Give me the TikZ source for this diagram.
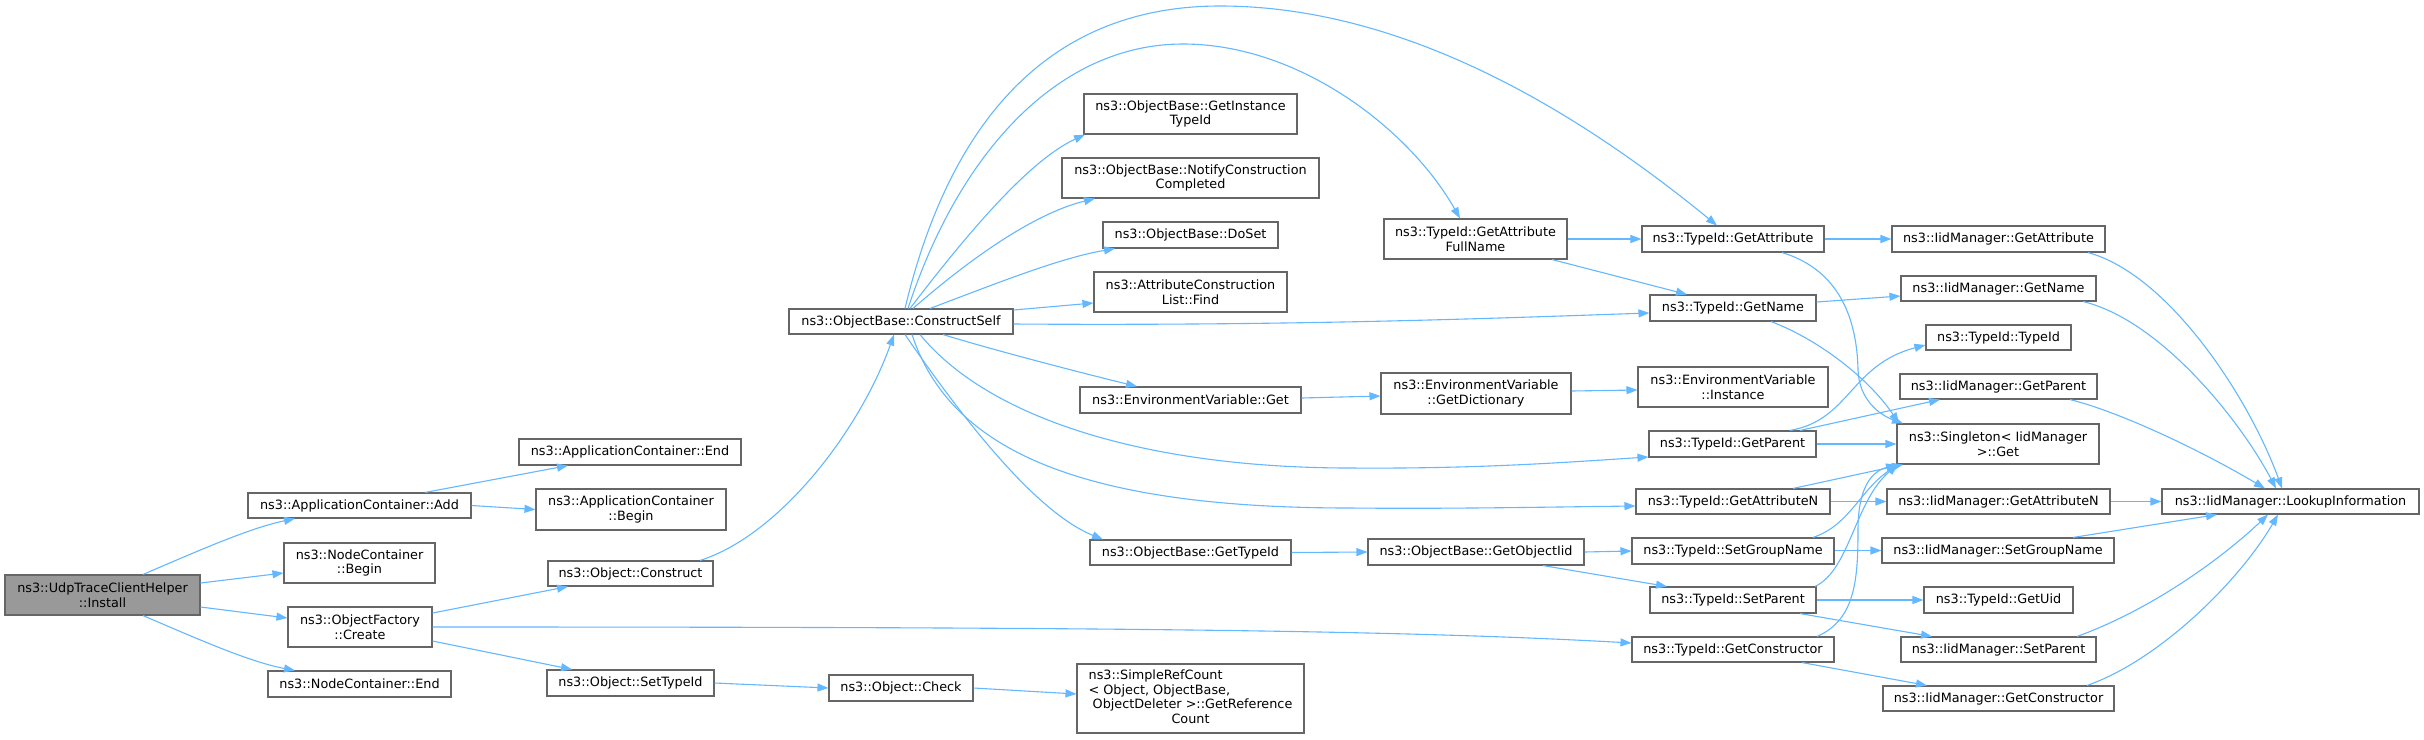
\documentclass[tikz,border=0pt]{standalone}
\usepackage{fontspec}
\setmainfont{DejaVu Sans}
\usetikzlibrary{arrows.meta}
\definecolor{edgeblue}{HTML}{63B8FF}
\definecolor{boxgray}{HTML}{666666}
\definecolor{fillgray}{HTML}{999999}
\begin{document}
\begin{tikzpicture}[x=1pt,y=-1pt,
  box/.style={draw=boxgray, line width=1.1pt, inner sep=0pt, align=center,
    font=\fontsize{12.8}{14.8}\selectfont, fill=white},
  root/.style={box, fill=fillgray},
  call/.style={draw=edgeblue, line width=1.1pt, -{Triangle[length=11pt,width=8pt]}}]
\useasboundingbox (0,0) rectangle (2424,739);
\fill[white] (0,0) rectangle (2424,739);
% nodes
\node[root, minimum width=195pt, minimum height=40pt] (install) at (102.5,595) {ns3::UdpTraceClientHelper\\::Install};
\node[box, minimum width=223pt, minimum height=25pt] (appadd) at (359.5,505.5) {ns3::ApplicationContainer::Add};
\node[box, minimum width=151pt, minimum height=40pt] (ncbegin) at (359.5,563) {ns3::NodeContainer\\::Begin};
\node[box, minimum width=144pt, minimum height=40pt] (ofcreate) at (360,627) {ns3::ObjectFactory\\::Create};
\node[box, minimum width=183pt, minimum height=26pt] (ncend) at (359.5,684) {ns3::NodeContainer::End};
\node[box, minimum width=222pt, minimum height=26pt] (append) at (630,452) {ns3::ApplicationContainer::End};
\node[box, minimum width=190pt, minimum height=41pt] (appbegin) at (631,509.5) {ns3::ApplicationContainer\\::Begin};
\node[box, minimum width=165pt, minimum height=25pt] (construct) at (630.5,573.5) {ns3::Object::Construct};
\node[box, minimum width=167pt, minimum height=26pt] (settypeid) at (630.5,683) {ns3::Object::SetTypeId};
\node[box, minimum width=144pt, minimum height=26pt] (check) at (901,688) {ns3::Object::Check};
\node[box, minimum width=224pt, minimum height=25pt] (constructself) at (901,321.5) {ns3::ObjectBase::ConstructSelf};
\node[box, minimum width=213pt, minimum height=40pt] (getinst) at (1190.5,114) {ns3::ObjectBase::GetInstance\\TypeId};
\node[box, minimum width=257pt, minimum height=40pt] (notify) at (1190.5,178) {ns3::ObjectBase::NotifyConstruction\\Completed};
\node[box, minimum width=175pt, minimum height=26pt] (doset) at (1190.5,235) {ns3::ObjectBase::DoSet};
\node[box, minimum width=193pt, minimum height=40pt] (find) at (1190.5,292) {ns3::AttributeConstruction\\List::Find};
\node[box, minimum width=221pt, minimum height=26pt] (envget) at (1190.5,400) {ns3::EnvironmentVariable::Get};
\node[box, minimum width=201pt, minimum height=25pt] (obgettypeid) at (1190.5,552.5) {ns3::ObjectBase::GetTypeId};
\node[box, minimum width=227pt, minimum height=69pt] (simpleref) at (1190.5,698.5) {\begin{tabular}{@{}l@{}}ns3::SimpleRefCount\\< Object, ObjectBase,\\\ ObjectDeleter >::GetReference\\\multicolumn{1}{@{}c@{}}{Count}\end{tabular}};
\node[box, minimum width=183pt, minimum height=40pt] (fullname) at (1475.5,239) {ns3::TypeId::GetAttribute\\FullName};
\node[box, minimum width=190pt, minimum height=41pt] (getdict) at (1476,393.5) {ns3::EnvironmentVariable\\::GetDictionary};
\node[box, minimum width=216pt, minimum height=26pt] (getobjiid) at (1476,552) {ns3::ObjectBase::GetObjectIid};
\node[box, minimum width=182pt, minimum height=26pt] (getattr) at (1733,239) {ns3::TypeId::GetAttribute};
\node[box, minimum width=166pt, minimum height=26pt] (getname) at (1733,308) {ns3::TypeId::GetName};
\node[box, minimum width=190pt, minimum height=40pt] (instance) at (1733,387) {ns3::EnvironmentVariable\\::Instance};
\node[box, minimum width=167pt, minimum height=26pt] (getparent) at (1732.5,444) {ns3::TypeId::GetParent};
\node[box, minimum width=194pt, minimum height=25pt] (getattrn) at (1733,501.5) {ns3::TypeId::GetAttributeN};
\node[box, minimum width=202pt, minimum height=26pt] (setgroup) at (1733,551) {ns3::TypeId::SetGroupName};
\node[box, minimum width=166pt, minimum height=26pt] (setparent) at (1733,600) {ns3::TypeId::SetParent};
\node[box, minimum width=202pt, minimum height=25pt] (getctor) at (1733,649.5) {ns3::TypeId::GetConstructor};
\node[box, minimum width=213pt, minimum height=26pt] (iidgetattr) at (1998.5,239) {ns3::IidManager::GetAttribute};
\node[box, minimum width=195pt, minimum height=25pt] (iidgetname) at (1998.5,288.5) {ns3::IidManager::GetName};
\node[box, minimum width=145pt, minimum height=25pt] (typeidtypeid) at (1998.5,337.5) {ns3::TypeId::TypeId};
\node[box, minimum width=197pt, minimum height=25pt] (iidgetparent) at (1998.5,386.5) {ns3::IidManager::GetParent};
\node[box, minimum width=202pt, minimum height=40pt] (singleton) at (1998,444) {ns3::Singleton< IidManager\\ >::Get};
\node[box, minimum width=223pt, minimum height=25pt] (iidgetattrn) at (1998.5,501.5) {ns3::IidManager::GetAttributeN};
\node[box, minimum width=257pt, minimum height=25pt] (lookup) at (2290.5,501.5) {ns3::IidManager::LookupInformation};
\node[box, minimum width=232pt, minimum height=25pt] (iidsetgroup) at (1998,550.5) {ns3::IidManager::SetGroupName};
\node[box, minimum width=149pt, minimum height=26pt] (getuid) at (1998.5,600) {ns3::TypeId::GetUid};
\node[box, minimum width=195pt, minimum height=25pt] (iidsetparent) at (1998.5,649.5) {ns3::IidManager::SetParent};
\node[box, minimum width=231pt, minimum height=25pt] (iidgetctor) at (1998.5,698.5) {ns3::IidManager::GetConstructor};
% edges from Install
\draw[call] ([xshift=40.5pt]install.north) .. controls (200,550) and (250,528) .. ([xshift=-64.5pt]appadd.south);
\draw[call] ([yshift=12pt]install.east) -- ([yshift=-10pt]ncbegin.west);
\draw[call] ([yshift=-12pt]install.east) -- ([yshift=9pt]ofcreate.west);
\draw[call] ([xshift=40.5pt]install.south) .. controls (200,640) and (250,662) .. ([xshift=-64.5pt]ncend.north);
\draw[call] ([xshift=65.5pt]appadd.north) -- ([xshift=-62pt]append.south);
\draw[call] (appadd.east) -- (appbegin.west);
\draw[call] ([yshift=14pt]ofcreate.east) -- ([xshift=-62.5pt]construct.south);
\draw[call] (ofcreate.east) .. controls (1100,627) and (1400,630) .. ([yshift=6.5pt]getctor.west);
\draw[call] ([yshift=-14pt]ofcreate.east) -- ([xshift=-58.5pt]settypeid.north);
\draw[call] ([xshift=69.5pt]construct.north) .. controls (780,535) and (860,430) .. ([xshift=-7pt]constructself.south);
\draw[call] (settypeid.east) -- (check.west);
\draw[call] (check.east) -- ([yshift=4.5pt]simpleref.west);
% ConstructSelf
\draw[call] ([xshift=4pt]constructself.north) .. controls (950,120) and (1050,6) .. (1220,6) .. controls (1420,6) and (1600,130) .. ([xshift=-16pt]getattr.north);
\draw[call] ([xshift=7pt]constructself.north) .. controls (960,150) and (1060,44) .. (1183,44) .. controls (1300,44) and (1410,130) .. ([xshift=-15.5pt]fullname.north);
\draw[call] ([xshift=9pt]constructself.north) .. controls (970,230) and (1030,160) .. ([xshift=-105.5pt]getinst.south);
\draw[call] ([xshift=12pt]constructself.north) .. controls (980,250) and (1040,212) .. ([xshift=-95.5pt]notify.south);
\draw[call] ([xshift=29pt]constructself.north) .. controls (1000,282) and (1060,258) .. ([xshift=-75.5pt]doset.south);
\draw[call] ([yshift=11.5pt]constructself.east) -- ([yshift=-11pt]find.west);
\draw[call] ([yshift=-2.5pt]constructself.east) .. controls (1300,326) and (1500,318) .. ([yshift=-5pt]getname.west);
\draw[call] ([xshift=42pt]constructself.south) .. controls (1000,352) and (1090,375) .. ([xshift=-53.5pt]envget.north);
\draw[call] ([xshift=19pt]constructself.south) .. controls (990,420) and (1150,468) .. (1350,468) .. controls (1480,469) and (1570,462) .. ([yshift=-13pt]getparent.west);
\draw[call] ([xshift=11pt]constructself.south) .. controls (950,450) and (1080,508) .. (1350,508) .. controls (1450,509) and (1550,507) .. ([yshift=-4.5pt]getattrn.west);
\draw[call] ([xshift=4pt]constructself.south) .. controls (950,400) and (1030,510) .. ([xshift=-87.5pt]obgettypeid.north);
% middle
\draw[call] (fullname.east) -- (getattr.west);
\draw[call] ([xshift=76.5pt]fullname.south) -- ([xshift=-46pt]getname.north);
\draw[call] (getattr.east) -- (iidgetattr.west);
\draw[call] ([xshift=49pt]getattr.south) .. controls (1840,270) and (1857,320) .. (1858,370) .. controls (1859,400) and (1880,415) .. ([xshift=-95pt]singleton.north);
\draw[call] ([xshift=38pt]getname.south) .. controls (1820,340) and (1870,380) .. ([xshift=-99pt]singleton.north);
\draw[call] ([yshift=6pt]getname.east) -- ([yshift=-7.5pt]iidgetname.west);
\draw[call] ([yshift=2pt]envget.east) -- ([yshift=-2.5pt]getdict.west);
\draw[call] ([yshift=2.5pt]getdict.east) -- ([yshift=-3pt]instance.west);
\draw[call] ([xshift=57.5pt]getparent.north) .. controls (1850,420) and (1850,365) .. ([yshift=-7.5pt]typeidtypeid.west);
\draw[call] ([xshift=67.5pt]getparent.north) -- ([xshift=-58.5pt]iidgetparent.south);
\draw[call] (getparent.east) -- (singleton.west);
\draw[call] ([xshift=60pt]getattrn.north) -- ([xshift=-95pt]singleton.south);
\draw[call] (getattrn.east) -- (iidgetattrn.west);
\draw[call] ([xshift=80pt]setgroup.north) .. controls (1850,525) and (1860,490) .. ([xshift=-100pt]singleton.south);
\draw[call] ([yshift=0.5pt]setgroup.east) -- (iidsetgroup.west);
\draw[call] ([xshift=82pt]setparent.north) .. controls (1850,570) and (1855,500) .. ([xshift=-100pt]singleton.south);
\draw[call] (setparent.east) -- (getuid.west);
\draw[call] ([xshift=67pt]setparent.south) -- ([xshift=-66.5pt]iidsetparent.north);
\draw[call] ([xshift=84pt]getctor.north) .. controls (1855,620) and (1858,580) .. (1858,530) .. controls (1858,490) and (1870,472) .. ([xshift=-101pt]singleton.south);
\draw[call] ([xshift=69pt]getctor.south) -- ([xshift=-71.5pt]iidgetctor.north);
\draw[call] (getobjiid.east) -- (setgroup.west);
\draw[call] ([xshift=67pt]getobjiid.south) -- ([xshift=-66pt]setparent.north);
\draw[call] (obgettypeid.east) -- (getobjiid.west);
% to LookupInformation
\draw[call] ([xshift=89.5pt]iidgetattr.south) .. controls (2170,275) and (2250,400) .. ([xshift=-8.5pt]lookup.north);
\draw[call] ([xshift=84.5pt]iidgetname.south) .. controls (2160,320) and (2240,420) .. ([xshift=-14.5pt]lookup.north);
\draw[call] ([xshift=71.5pt]iidgetparent.south) .. controls (2120,412) and (2200,450) .. ([xshift=-25.5pt]lookup.north);
\draw[call] (iidgetattrn.east) -- (lookup.west);
\draw[call] ([xshift=75pt]iidsetgroup.north) -- ([xshift=-73.5pt]lookup.south);
\draw[call] ([xshift=78.5pt]iidsetparent.north) .. controls (2150,610) and (2220,560) .. ([xshift=-22.5pt]lookup.south);
\draw[call] ([xshift=88.5pt]iidgetctor.north) .. controls (2160,660) and (2240,580) .. ([xshift=-12.5pt]lookup.south);
\end{tikzpicture}
\end{document}
